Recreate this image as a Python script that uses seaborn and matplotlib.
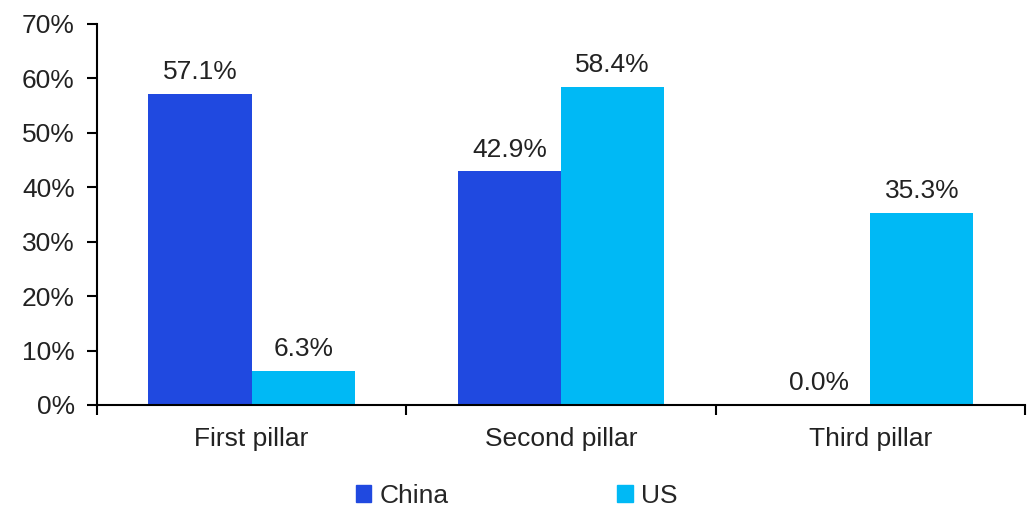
import matplotlib
matplotlib.use('Agg')
import matplotlib.pyplot as plt
import seaborn as sns
import pandas as pd
from matplotlib.patches import Patch

pillars = ['First pillar', 'Second pillar', 'Third pillar']
china = [57.1, 42.9, 0.0]
us = [6.3, 58.4, 35.3]
colors = {'China': '#2049E0', 'US': '#00B9F5'}

df = pd.DataFrame({
    'pillar': pillars * 2,
    'country': ['China'] * 3 + ['US'] * 3,
    'share': china + us,
})

sns.set_style('white')
plt.rcParams['font.family'] = ['Liberation Sans', 'DejaVu Sans']
fs = 19

fig = plt.figure(figsize=(10.27, 5.08), dpi=100)
ax = fig.add_axes([0.0944, 0.2028, 0.9036, 0.75])

sns.barplot(data=df, x='pillar', y='share', hue='country', palette=colors,
            width=0.667, saturation=1, linewidth=0, ax=ax, legend=False)

for container in ax.containers:
    ax.bar_label(container, fmt='%.1f%%', padding=7, fontsize=fs, color='#222222')

ax.set_ylim(0, 70)
ax.set_xlim(-0.5, 2.5)
ax.set_yticks(range(0, 71, 10))
ax.set_yticklabels([f'{v}%' for v in range(0, 71, 10)], fontsize=fs, color='#222222')
ax.set_xticks([-0.5, 0.5, 1.5, 2.5])
ax.set_xticklabels([])
ax.set_xticks([0, 1, 2], minor=True)
ax.set_xticklabels(pillars, minor=True, fontsize=fs, color='#222222')
ax.tick_params(axis='x', which='minor', bottom=True, length=0, pad=16)
ax.tick_params(axis='x', which='major', bottom=True, length=7, width=1.5, direction='out', color='black')
ax.tick_params(axis='y', left=True, length=7, width=1.5, direction='out', color='black', pad=9)
ax.set_xlabel('')
ax.set_ylabel('')

for s in ['top', 'right']:
    ax.spines[s].set_visible(False)
for s in ['left', 'bottom']:
    ax.spines[s].set_color('black')
    ax.spines[s].set_linewidth(1.5)

handles = [Patch(color=colors['China'], label='China'), Patch(color=colors['US'], label='US')]
fig.legend(handles=handles, loc='lower center', bbox_to_anchor=(0.503, -0.047), ncol=2,
           frameon=False, fontsize=fs, handlelength=0.6, handleheight=0.6,
           handletextpad=0.3, columnspacing=6.4)

fig.savefig('out.png', dpi=100)
